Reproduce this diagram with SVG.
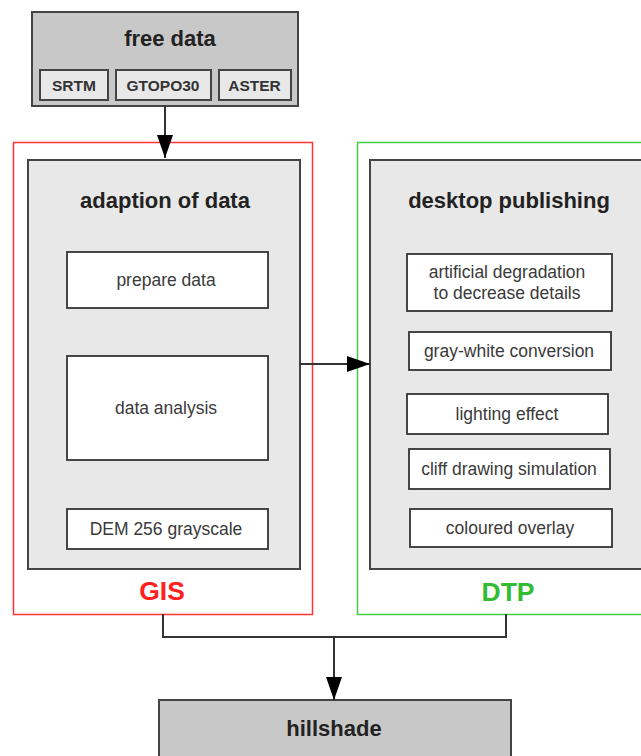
<svg xmlns="http://www.w3.org/2000/svg" width="641" height="756" viewBox="0 0 641 756">
<style>
text{font-family:"Liberation Sans",Arial,sans-serif;text-anchor:middle;fill:#222}
.box{stroke:#444;stroke-width:2}
.dark{fill:#c8c8c8}
.light{fill:#e8e8e8}
.white{fill:#fff;stroke:#333;stroke-width:1.8}
.title{font-size:22px;font-weight:bold}
.src{font-size:15.5px;font-weight:bold;fill:#333}
.item{font-size:17.5px;fill:#3a3a3a}
.conn{fill:none;stroke:#333;stroke-width:2}
.big{font-size:26.5px;font-weight:bold}
</style>
<defs>
<marker id="arrB" viewBox="0 0 23 16" refX="23" refY="8" markerWidth="23" markerHeight="16" orient="auto" markerUnits="userSpaceOnUse">
<path d="M0,0 L23,8 L0,16 Z" fill="#000"/>
</marker>
</defs>

<g id="free-data">
<rect class="box dark" x="32" y="12" width="266" height="94"/>
<text class="title" x="170" y="46">free data</text>
<rect class="box light" x="40" y="70" width="68" height="30"/>
<text class="src" x="74" y="91">SRTM</text>
<rect class="box light" x="116" y="70" width="95" height="30"/>
<text class="src" x="163" y="91">GTOPO30</text>
<rect class="box light" x="219" y="70" width="72" height="30"/>
<text class="src" x="254.5" y="91">ASTER</text>
</g>

<g id="gis">
<rect x="13.5" y="142.5" width="299" height="472" fill="#fff" stroke="#ff3333" stroke-width="1.5"/>
<rect class="box light" x="28" y="160" width="272" height="409"/>
<text class="title" x="165" y="208">adaption of data</text>
<rect class="white" x="67" y="252" width="201" height="56"/>
<text class="item" x="166" y="286">prepare data</text>
<rect class="white" x="67" y="356" width="201" height="104"/>
<text class="item" x="166" y="414">data analysis</text>
<rect class="white" x="67" y="509" width="201" height="40"/>
<text class="item" x="166" y="535">DEM 256 grayscale</text>
<text class="big" x="162" y="600" style="fill:#ff2020">GIS</text>
</g>

<g id="dtp">
<rect x="357.5" y="142.5" width="290" height="472" fill="#fff" stroke="#44cc44" stroke-width="1.5"/>
<rect class="box light" x="370" y="160" width="280" height="409"/>
<text class="title" x="509" y="208">desktop publishing</text>
<rect class="white" x="407" y="254" width="205" height="57"/>
<text class="item" x="507" y="278">artificial degradation</text>
<text class="item" x="507" y="299">to decrease details</text>
<rect class="white" x="409" y="332" width="202" height="38"/>
<text class="item" x="509" y="357">gray-white conversion</text>
<rect class="white" x="407" y="394" width="201" height="40"/>
<text class="item" x="507" y="420">lighting effect</text>
<rect class="white" x="409" y="449" width="201" height="40"/>
<text class="item" x="509" y="475">cliff drawing simulation</text>
<rect class="white" x="410" y="509" width="202" height="38"/>
<text class="item" x="510" y="534">coloured overlay</text>
<text class="big" x="508" y="601" style="fill:#33bb33">DTP</text>
</g>

<g id="hillshade">
<rect class="box dark" x="159" y="700" width="352" height="70"/>
<text class="title" x="334" y="736">hillshade</text>
</g>

<g id="connectors">
<line class="conn" x1="165" y1="106" x2="165" y2="158" marker-end="url(#arrB)"/>
<line class="conn" x1="300" y1="364" x2="370" y2="364" marker-end="url(#arrB)"/>
<polyline class="conn" points="163,614 163,637 506,637 506,614"/>
<line class="conn" x1="334" y1="637" x2="334" y2="700" marker-end="url(#arrB)"/>
</g>
</svg>
